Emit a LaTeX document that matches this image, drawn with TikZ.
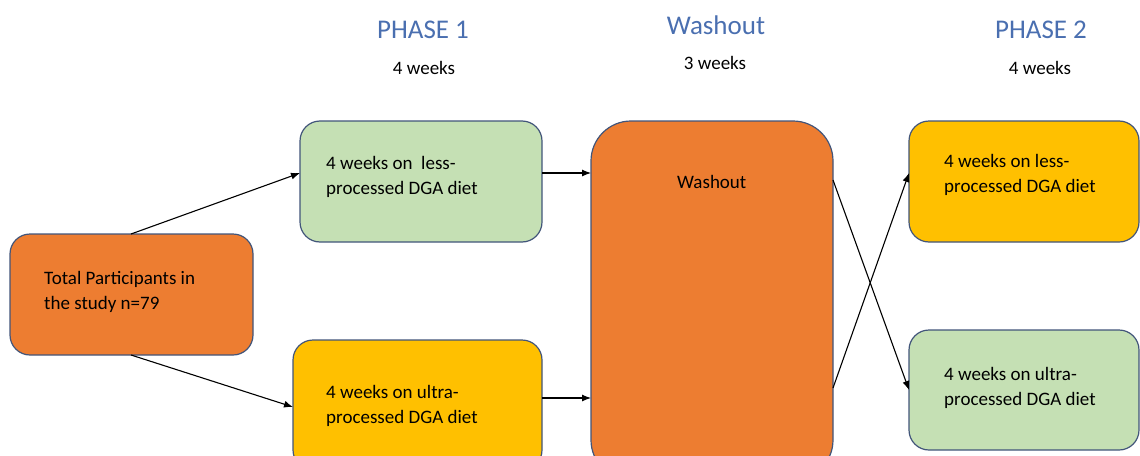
\documentclass[tikz,border=0pt]{standalone}
\usepackage{fontspec}
\setmainfont{Carlito}
\usetikzlibrary{arrows.meta}
\definecolor{orng}{HTML}{ED7D31}
\definecolor{grn}{HTML}{C5E0B4}
\definecolor{ylw}{HTML}{FFC000}
\definecolor{edge}{HTML}{42557A}
\definecolor{ttl}{HTML}{4A6FB0}
\begin{document}
\begin{tikzpicture}[x=1pt,y=-1pt,
  box/.style={draw=edge,line width=1.2pt,rounded corners=20pt},
  txt/.style={anchor=base west,inner sep=0pt,font=\fontsize{19}{25}\selectfont,align=left,text=black},
  hdr/.style={inner sep=0pt,font=\fontsize{27}{30}\selectfont,text=ttl},
  sub/.style={inner sep=0pt,font=\fontsize{19}{22}\selectfont,text=black},
  conn/.style={line width=1.1pt,-{Latex[length=9pt,width=7pt]}}]
\useasboundingbox (0,0) rectangle (1140,455);
% boxes
\path[box,fill=orng] (10,234) rectangle (253,355);
\coordinate (tTop) at (131,234); \coordinate (tBot) at (131,355);
\path[box,fill=grn] (300,121) rectangle (542,242);
\coordinate (gL) at (300,173); \coordinate (gR) at (542,173);
\path[box,fill=ylw] (293,340) rectangle (542,470);
\coordinate (yL) at (293,407); \coordinate (yR) at (542,398);
\path[box,fill=orng,rounded corners=40pt] (591,121) rectangle (833,480);
\coordinate (wL1) at (591,173); \coordinate (wL2) at (591,398);
\coordinate (wR1) at (833,180); \coordinate (wR2) at (833,388);
\path[box,fill=ylw] (909,121) rectangle (1139,242);
\coordinate (p2a) at (909,173);
\path[box,fill=grn] (909,330) rectangle (1139,450);
\coordinate (p2b) at (909,390);
% texts
\node[hdr] (h1) at (423,30) {PHASE 1};
\node[sub] (s1) at (424,68) {4 weeks};
\node[hdr] (h2) at (716,25) {Washout};
\node[sub] (s2) at (715,63) {3 weeks};
\node[hdr] (h3) at (1041,30) {PHASE 2};
\node[sub] (s3) at (1040,68) {4 weeks};
\node[txt] (t1) at (44,309) {Total Participants in\\the study n=79};
\node[txt] (t2) at (326,194) {4 weeks on\ \ less-\\processed DGA diet};
\node[txt] (t3) at (326,423) {4 weeks on ultra-\\processed DGA diet};
\node[txt] (t4) at (677,188) {Washout};
\node[txt] (t5) at (944,192) {4 weeks on less-\\processed DGA diet};
\node[txt] (t6) at (944,405) {4 weeks on ultra-\\processed DGA diet};
% connectors
\draw[conn] (tTop) -- (gL);
\draw[conn] (tBot) -- (yL);
\draw[conn] (gR) -- (wL1);
\draw[conn] (yR) -- (wL2);
\draw[conn] (wR1) -- (p2b);
\draw[conn] (wR2) -- (p2a);
\end{tikzpicture}
\end{document}
